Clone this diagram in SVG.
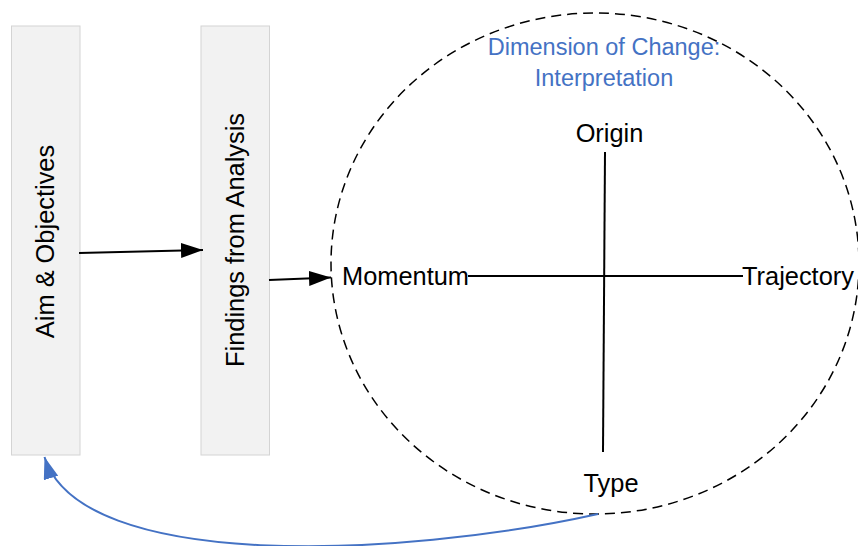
<svg xmlns="http://www.w3.org/2000/svg" width="858" height="546" viewBox="0 0 858 546">
  <style>
    .box { fill: #F2F2F2; stroke: #D4D4D4; stroke-width: 1; }
    .lbl { font-family: "Liberation Sans", Arial, sans-serif; font-size: 25.4px; fill: #000; }
    .title { font-family: "Liberation Sans", Arial, sans-serif; font-size: 23.5px; fill: #4472C4; text-anchor: middle; }
    .axis { stroke: #000; stroke-width: 2; fill: none; }
    .flow { stroke: #000; stroke-width: 2; fill: none; marker-end: url(#arrowBlack); }
    .back { stroke: #4472C4; stroke-width: 2; fill: none; marker-end: url(#arrowBlue); }
  </style>
  <defs>
    <marker id="arrowBlack" markerUnits="userSpaceOnUse" markerWidth="24" markerHeight="16" refX="22" refY="7.5" orient="auto">
      <path d="M0,0 L22,7.5 L0,15 Z" fill="#000"/>
    </marker>
    <marker id="arrowBlue" markerUnits="userSpaceOnUse" markerWidth="24" markerHeight="16" refX="22" refY="7.5" orient="auto">
      <path d="M0,0 L22,7.5 L0,15 Z" fill="#4472C4"/>
    </marker>
  </defs>

  <g id="aim-objectives">
    <rect class="box" x="11.5" y="26" width="68.5" height="429"/>
    <text class="lbl" text-anchor="middle" transform="translate(53.5,241.5) rotate(-90)">Aim &amp; Objectives</text>
  </g>

  <g id="findings">
    <rect class="box" x="201" y="26" width="68.5" height="429"/>
    <text class="lbl" text-anchor="middle" transform="translate(243.5,240) rotate(-90)">Findings from Analysis</text>
  </g>

  <g id="dimension-of-change">
    <ellipse cx="595" cy="263.5" rx="264" ry="250.5" fill="none" stroke="#000" stroke-width="1.5" stroke-dasharray="10,6"/>
    <text class="title" x="604" y="55">Dimension of Change:</text>
    <text class="title" x="604" y="86">Interpretation</text>
    <line class="axis" x1="605" y1="152" x2="603" y2="452"/>
    <line class="axis" x1="468" y1="276" x2="743" y2="276"/>
    <text class="lbl" text-anchor="middle" x="609.5" y="142">Origin</text>
    <text class="lbl" text-anchor="middle" x="611" y="492">Type</text>
    <text class="lbl" x="342" y="285">Momentum</text>
    <text class="lbl" x="742" y="285">Trajectory</text>
  </g>

  <g id="connectors">
    <line class="flow" x1="79" y1="253" x2="203" y2="250"/>
    <line class="flow" x1="269" y1="280" x2="331" y2="277.5"/>
    <path class="back" d="M598,514 C400,558 80,572 44.5,457"/>
  </g>
</svg>
